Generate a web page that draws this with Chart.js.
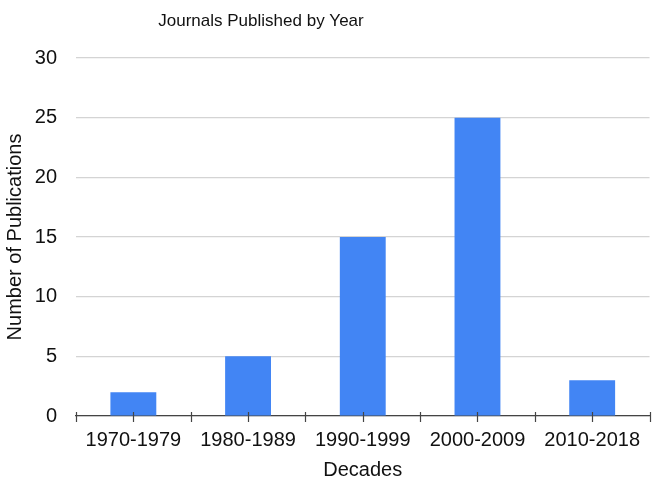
<!DOCTYPE html>
<html>
<head>
<meta charset="utf-8">
<script src="https://cdn.jsdelivr.net/npm/chart.js@4/dist/chart.umd.min.js"></script>
<style>
  html, body { margin: 0; padding: 0; background: #ffffff; }
  #wrap { width: 652px; height: 480px; }
</style>
</head>
<body>
<div id="wrap"><canvas id="chart" width="652" height="480"></canvas></div>
<script>
const decades = ['1970-1979', '1980-1989', '1990-1999', '2000-2009', '2010-2018'];
const publications = [2, 5, 15, 25, 3];
const yTicks = [0, 5, 10, 15, 20, 25, 30];
const chartTitle = 'Journals Published by Year';

const FONT = "'Liberation Sans', Arial, Helvetica, sans-serif";

// Short tick marks on the x axis at every category centre and boundary
const axisTicks = {
  id: 'axisTicks',
  afterDraw(chart) {
    const x = chart.scales.x;
    const ctx = chart.ctx;
    const half = (x.right - x.left) / decades.length / 2;
    const y0 = x.top;
    const marks = [];
    decades.forEach((_, i) => {
      const c = x.getPixelForValue(i);
      marks.push(c - half, c);
      if (i === decades.length - 1) marks.push(c + half);
    });
    ctx.save();
    ctx.strokeStyle = '#444444';
    ctx.lineWidth = 1.2;
    ctx.beginPath();
    marks.forEach(px => {
      const p = Math.round(px) + 0.5;
      ctx.moveTo(p, y0 - 4);
      ctx.lineTo(p, y0 + 6);
    });
    ctx.stroke();
    ctx.restore();
  }
};

// Chart heading, set slightly left of the canvas centre
const heading = {
  id: 'heading',
  afterDraw(chart) {
    const ctx = chart.ctx;
    ctx.save();
    ctx.fillStyle = '#111111';
    ctx.font = "17px " + FONT;
    ctx.textAlign = 'center';
    ctx.textBaseline = 'middle';
    ctx.fillText(chartTitle, 261, 21);
    ctx.restore();
  }
};

new Chart(document.getElementById('chart'), {
  type: 'bar',
  data: {
    labels: decades,
    datasets: [{
      label: 'Number of Publications',
      data: publications,
      backgroundColor: '#4285f4',
      borderWidth: 0,
      barPercentage: 0.4,
      categoryPercentage: 1.0
    }]
  },
  options: {
    responsive: false,
    animation: false,
    layout: { padding: { left: 0, right: -1, top: 58, bottom: 0 } },
    plugins: {
      legend: { display: false },
      tooltip: { enabled: false },
      title: { display: false }
    },
    scales: {
      x: {
        grid: { display: false, drawTicks: false },
        border: { display: true, color: '#444444', width: 1.2 },
        ticks: {
          color: '#111111',
          font: { family: FONT, size: 20 },
          padding: 12,
          maxRotation: 0
        },
        title: {
          display: true,
          text: 'Decades',
          color: '#111111',
          font: { family: FONT, size: 20, lineHeight: 1.0 },
          padding: { top: 0, bottom: 0 }
        },
        afterFit(scale) { scale.height = 64; }
      },
      y: {
        min: 0,
        max: 30,
        afterBuildTicks(scale) { scale.ticks = yTicks.map(v => ({ value: v })); },
        grid: { color: '#d4d4d4', lineWidth: 1.2, drawTicks: false },
        border: { display: false },
        ticks: {
          color: '#111111',
          font: { family: FONT, size: 20 },
          padding: 19
        },
        title: {
          display: true,
          text: 'Number of Publications',
          color: '#111111',
          font: { family: FONT, size: 20 },
          padding: { top: 3, bottom: 0 }
        },
        afterFit(scale) { scale.width = 76; }
      }
    }
  },
  plugins: [axisTicks, heading]
});
</script>
</body>
</html>
